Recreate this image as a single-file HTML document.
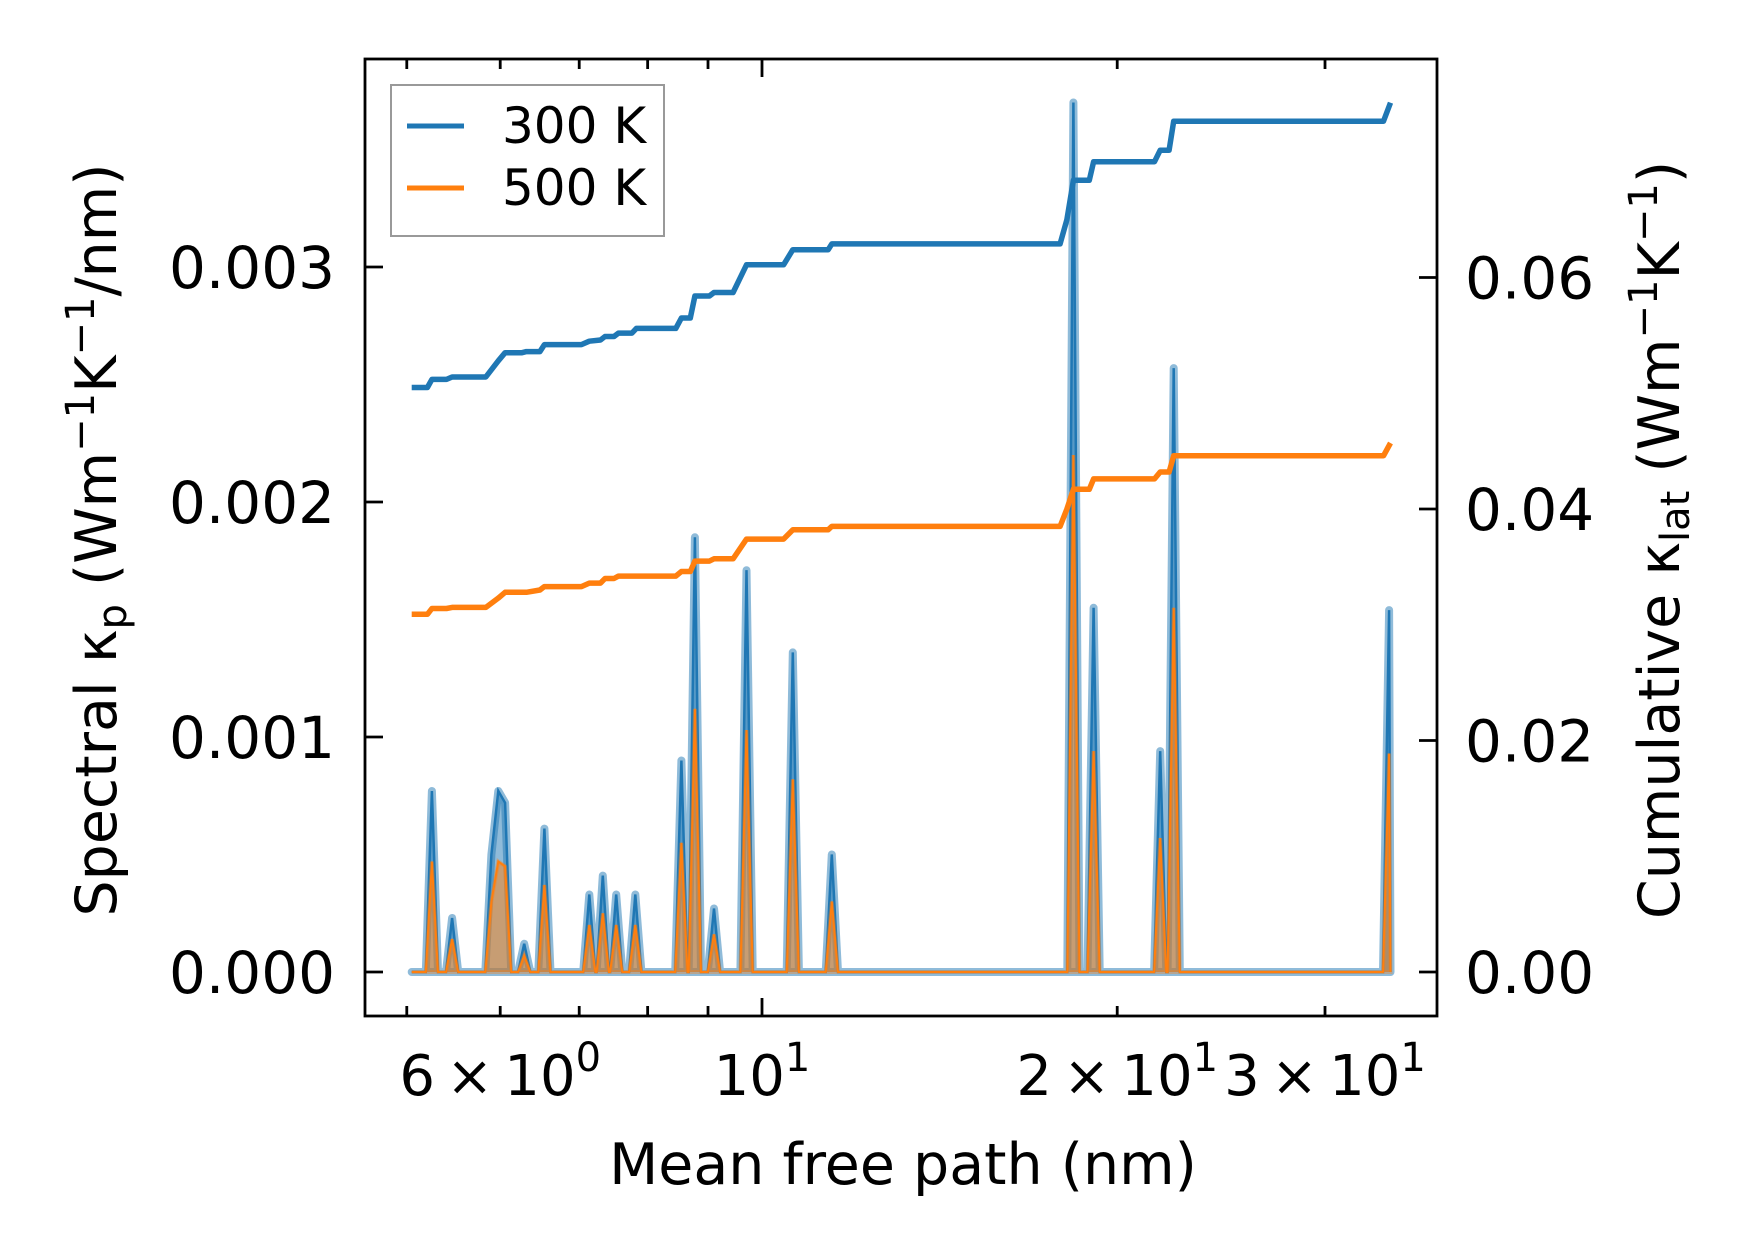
<!DOCTYPE html>
<html><head><meta charset="utf-8"><style>
html,body{margin:0;padding:0;background:#fff}
svg{display:block}
text{font-family:"DejaVu Sans","Liberation Sans",sans-serif;fill:#000}
</style></head><body>
<svg id="chart" width="1753" height="1253" viewBox="0 0 1753 1253" xmlns="http://www.w3.org/2000/svg">
<g id="plot"></g>
<text x="903" y="1184" text-anchor="middle" font-size="57">Mean free path (nm)</text>
<text transform="translate(116,540) rotate(-90)" text-anchor="middle" font-size="57">Spectral κ<tspan font-size="40" dy="10">p</tspan><tspan dy="-10"> (Wm</tspan><tspan font-size="40" dy="-22">−1</tspan><tspan dy="22">K</tspan><tspan font-size="40" dy="-22">−1</tspan><tspan dy="22">/nm)</tspan></text>
<text transform="translate(1679,540) rotate(-90)" text-anchor="middle" font-size="57">Cumulative κ<tspan font-size="40" dy="10">lat</tspan><tspan dy="-10"> (Wm</tspan><tspan font-size="40" dy="-22">−1</tspan><tspan dy="22">K</tspan><tspan font-size="40" dy="-22">−1</tspan><tspan dy="22">)</tspan></text>
<g>
<rect x="391" y="85" width="273" height="151" fill="#fff" fill-opacity="0.8" stroke="#999" stroke-width="2"/>
<line x1="407" y1="126" x2="464" y2="126" stroke="#1f77b4" stroke-width="5"/>
<text x="502" y="143" font-size="50">300 K</text>
<line x1="407" y1="188" x2="464" y2="188" stroke="#ff7f0e" stroke-width="5"/>
<text x="502" y="205" font-size="50">500 K</text>
</g>
</svg>
<script>
// Spectral peaks (mean free path in nm, kappa in W/m/K/nm)
const peakMfp = [5.251,5.462,5.898,5.977,6.057,6.287,6.540,7.139,7.329,7.524,7.809,8.544,8.772,9.105,9.703,10.62,11.46,18.36,19.10,21.75,22.33,34.00];
const peak300 = [0.00077,0.00023,0.00050,0.00077,0.00072,0.00012,0.00061,0.00033,0.00041,0.00033,0.00033,0.00090,0.00185,0.00027,0.00171,0.00136,0.00050,0.00370,0.00155,0.00094,0.00257,0.00154];
const peak500 = [0.00047,0.00014,0.00030,0.00047,0.00045,0.00007,0.00037,0.00020,0.00025,0.00020,0.00020,0.00055,0.00112,0.00016,0.00103,0.00082,0.00030,0.00220,0.00094,0.00057,0.00155,0.00093];
const mfpMin = 5.048, mfpMax = 34.09;
// Cumulative kappa (W/m/K)
const cumMfp = [5.048,5.205,5.251,5.403,5.462,5.834,5.977,6.057,6.260,6.315,6.483,6.540,7.030,7.139,7.297,7.361,7.491,7.557,7.758,7.826,8.451,8.544,8.695,8.772,9.025,9.105,9.451,9.703,10.43,10.62,11.38,11.46,17.89,18.13,18.36,18.94,19.10,21.51,21.75,22.13,22.33,33.63,34.09];
const cum300 = [0.0505,0.0505,0.0512,0.0512,0.0514,0.0514,0.0528,0.0535,0.0535,0.0536,0.0536,0.0542,0.0542,0.0545,0.0546,0.0549,0.0549,0.0552,0.0552,0.0556,0.0556,0.0565,0.0565,0.0584,0.0584,0.0587,0.0587,0.0611,0.0611,0.0624,0.0624,0.0629,0.0629,0.0650,0.0684,0.0684,0.0700,0.0700,0.0710,0.0710,0.0735,0.0735,0.0751];
const cum500 = [0.0309,0.0309,0.0314,0.0314,0.0315,0.0315,0.0323,0.0328,0.0328,0.0328,0.0330,0.0333,0.0333,0.0336,0.0336,0.0340,0.0340,0.0342,0.0342,0.0342,0.0342,0.0346,0.0346,0.0355,0.0355,0.0357,0.0357,0.0374,0.0374,0.0382,0.0382,0.0385,0.0385,0.0400,0.0417,0.0417,0.0426,0.0426,0.0432,0.0432,0.0446,0.0446,0.0457];
const leftTicks = [0,0.001,0.002,0.003];
const leftLabels = ["0.000","0.001","0.002","0.003"];
const rightTicks = [0,0.02,0.04,0.06];
const rightLabels = ["0.00","0.02","0.04","0.06"];
const xMajor = [10];
const xMinor = [5,6,7,8,9,20,30];
const xLabelVals = [6,10,20,30];
const xLabelBase = ["6\u2009×\u200910","10","2\u2009×\u200910","3\u2009×\u200910"];
const xLabelExp = ["0","1","1","1"];

const L=365,R=1437,T=59,B=1016;
const X0=762, PXDEC=1180, Y0=972;
const sx=v=>X0+Math.log10(v/10)*PXDEC;
const syL=v=>Y0-v*235000;
const syR=v=>Y0-v*11575;
const NS="http://www.w3.org/2000/svg";
const g=document.getElementById('plot');
function mk(tag,attrs,parent){const e=document.createElementNS(NS,tag);for(const k in attrs)e.setAttribute(k,attrs[k]);(parent||g).appendChild(e);return e;}

const HW=1.012, MERGE=1.016;
function spectral(vals){
  const pts=[[mfpMin,0]];
  for(let i=0;i<peakMfp.length;i++){
    const x=peakMfp[i];
    const prevClose=i>0&&x/peakMfp[i-1]<MERGE;
    const nextClose=i<peakMfp.length-1&&peakMfp[i+1]/x<MERGE;
    if(!prevClose)pts.push([x/HW,0]);
    pts.push([x,vals[i]]);
    if(!nextClose)pts.push([Math.min(x*HW,mfpMax),0]);
  }
  pts.push([mfpMax,0]);
  return pts;
}
function path(pts,sy){return pts.map((p,i)=>(i?'L':'M')+sx(p[0]).toFixed(1)+' '+sy(p[1]).toFixed(1)).join(' ');}
const s300=spectral(peak300), s500=spectral(peak500);
const area300=mk('path',{d:path(s300,syL)+' Z',fill:'#1f77b4','fill-opacity':0.5,stroke:'#1f77b4','stroke-opacity':0.5,'stroke-width':8,'stroke-linejoin':'round'});


const line300=mk('path',{d:path(s300,syL),fill:'none',stroke:'#1f77b4','stroke-width':2.5});


const area500=mk('path',{d:path(s500,syL)+' Z',fill:'#ff7f0e','fill-opacity':0.5,stroke:'#ff7f0e','stroke-opacity':0.35,'stroke-width':4});


const line500=mk('path',{d:path(s500,syL),fill:'none',stroke:'#ff7f0e','stroke-width':2});



function cumPath(vals){return cumMfp.map((m,i)=>(i?'L':'M')+sx(m).toFixed(1)+' '+syR(vals[i]).toFixed(1)).join(' ');}
const c300=mk('path',{d:cumPath(cum300),fill:'none',stroke:'#1f77b4','stroke-width':5.5,'stroke-linejoin':'round'});


const c500=mk('path',{d:cumPath(cum500),fill:'none',stroke:'#ff7f0e','stroke-width':5.5,'stroke-linejoin':'round'});



const frame=mk('rect',{x:L,y:T,width:R-L,height:B-T,fill:'none',stroke:'#000','stroke-width':2.8});



function tk(x1,y1,x2,y2,name){const t=mk('line',{x1,y1,x2,y2,stroke:'#000','stroke-width':2.8});}
xMajor.forEach(v=>{const x=sx(v);tk(x,B,x,B-18,'x-major-tick');tk(x,T,x,T+18,'x-major-tick-top');});
xMinor.forEach(v=>{const x=sx(v);tk(x,B,x,B-10,'x-minor-tick');tk(x,T,x,T+10,'x-minor-tick-top');});
leftTicks.forEach((v,i)=>{const y=syL(v);tk(L,y,L+18,y,'left-y-tick');
  const t=mk('text',{x:L-30,y:y+21,'text-anchor':'end','font-size':58});t.textContent=leftLabels[i];
  });
rightTicks.forEach((v,i)=>{const y=syR(v);tk(R,y,R-18,y,'right-y-tick');
  const t=mk('text',{x:R+28,y:y+21,'font-size':58});t.textContent=rightLabels[i];
  });
xLabelVals.forEach((v,i)=>{
  const t=mk('text',{x:sx(v),y:1095,'text-anchor':'middle','font-size':56});
  t.textContent=xLabelBase[i];
  const s=document.createElementNS(NS,'tspan');s.setAttribute('dy','-24');s.setAttribute('font-size','40');s.textContent=xLabelExp[i];t.appendChild(s);
  });
</script>
</body></html>
